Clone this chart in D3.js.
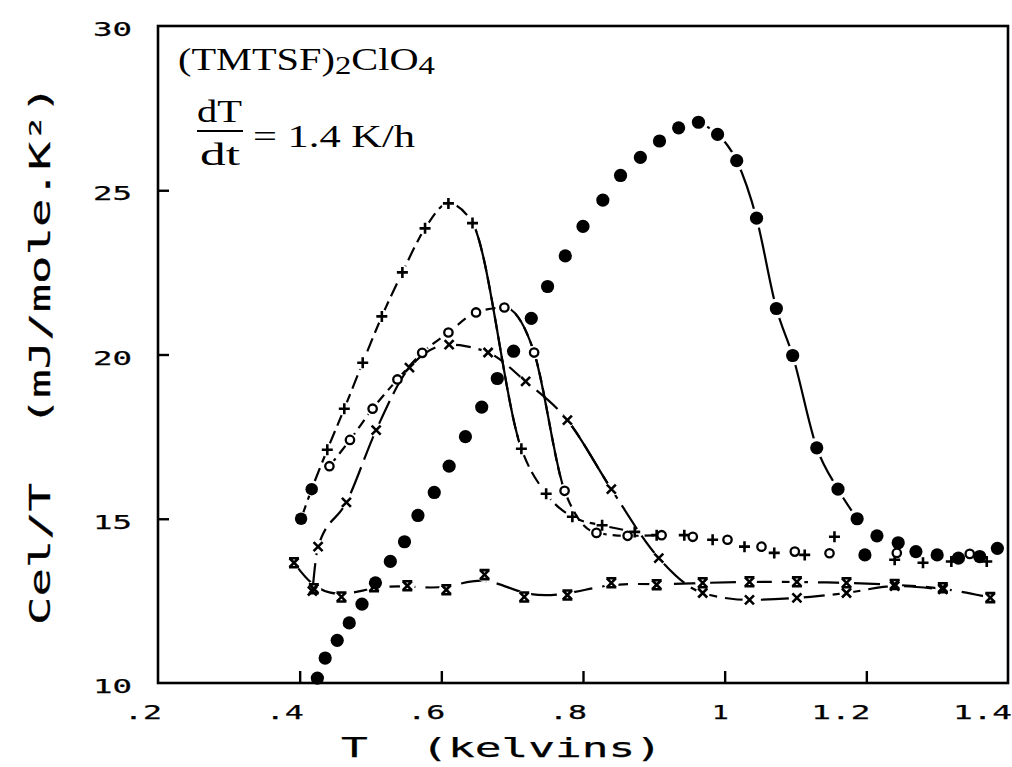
<!DOCTYPE html>
<html><head><meta charset="utf-8">
<script src="https://cdn.jsdelivr.net/npm/d3@7"></script>
<style>body{margin:0;background:#fff}svg{display:block}</style>
</head><body>
<script>
// ---- data ----
const xTicks = [0.2, 0.4, 0.6, 0.8, 1.0, 1.2, 1.4];
const xTickLabels = [".2", ".4", ".6", ".8", "1", "1.2", "1.4"];
const yTicks = [10, 15, 20, 25, 30];
const yTickLabels = ["10", "15", "20", "25", "30"];

const dotsT = [0.425,0.436,0.453,0.47,0.488,0.507,0.528,0.548,0.567,0.59,0.611,0.634,0.657,0.679,0.702,0.727,0.75,0.775,0.8,0.828,0.853,0.881,0.908,0.935,0.963,0.99,1.017,1.045,1.073,1.096,1.13,1.16,1.187,1.198,1.215,1.245,1.27,1.30,1.33,1.36,1.385];
const dotsV = [10.15,10.76,11.3,11.83,12.4,13.05,13.7,14.3,15.1,15.8,16.6,17.5,18.4,19.27,20.1,21.1,22.07,23.0,23.9,24.7,25.45,26.0,26.5,26.9,27.07,26.7,25.9,24.15,21.4,19.97,17.16,15.9,15.0,13.9,14.48,14.27,14.0,13.9,13.8,13.85,14.1];

const startT = [0.402, 0.417];
const startV = [15.0, 15.9];

const plusT = [0.439,0.463,0.489,0.516,0.545,0.577,0.61,0.644,0.713,0.748,0.785,0.827,0.873,0.904,0.943,0.983,1.028,1.07,1.113,1.155,1.24,1.28,1.32,1.37];
const plusV = [17.1,18.35,19.75,21.16,22.5,23.84,24.6,24.0,17.13,15.76,15.06,14.8,14.6,14.5,14.5,14.36,14.15,13.96,13.9,14.45,13.75,13.66,13.7,13.7];

const circT = [0.442,0.471,0.503,0.538,0.573,0.61,0.649,0.689,0.731,0.774,0.819,0.863,0.911,0.955,1.004,1.052,1.099,1.148,1.243,1.346];
const circV = [16.6,17.4,18.35,19.24,20.05,20.67,21.28,21.43,20.06,15.85,14.57,14.48,14.5,14.45,14.36,14.15,14.0,13.95,13.96,13.93];

const crossT = [0.418,0.426,0.466,0.508,0.555,0.611,0.666,0.719,0.778,0.84,0.907,0.969,1.035,1.102,1.172,1.24,1.308];
const crossV = [12.8,14.15,15.5,17.7,19.6,20.3,20.06,19.18,18.0,15.9,13.8,12.74,12.53,12.59,12.74,12.95,12.85];

const starT = [0.392,0.42,0.459,0.505,0.552,0.607,0.661,0.717,0.778,0.84,0.904,0.969,1.035,1.102,1.172,1.24,1.308,1.375];
const starV = [13.66,12.87,12.62,12.93,12.96,12.84,13.3,12.62,12.68,13.05,12.99,13.05,13.08,13.08,13.05,13.0,12.9,12.6];

// ---- layout ----
const W = 1012, H = 767;
const L = 158, R = 1008, Tp = 26, B = 683;
const svg = d3.select("body").append("svg").attr("width", W).attr("height", H);
svg.append("rect").attr("width", W).attr("height", H).attr("fill", "#fff");
const defs = svg.append("defs");

const x = d3.scaleLinear().domain([0.2, 1.4]).range([L, R]);
const y = d3.scaleLinear().domain([10, 30]).range([B, Tp]);

const zip = (a, b) => a.map((t, i) => [t, b[i]]);
const dots = zip(dotsT, dotsV), starts = zip(startT, startV), plus = zip(plusT, plusV),
      circ = zip(circT, circV), cross = zip(crossT, crossV), star = zip(starT, starV);

const line = d3.line().x(d => x(d[0])).y(d => y(d[1])).curve(d3.curveMonotoneX);
const smoothLine = d3.line().x(d => x(d[0])).y(d => y(d[1])).curve(d3.curveBasis);

// frame
svg.append("rect").attr("x", L).attr("y", Tp).attr("width", R - L).attr("height", B - Tp)
  .attr("fill", "none").attr("stroke", "#000").attr("stroke-width", 2.6);

// ticks via d3 axes (inward)
const xAxis = d3.axisBottom(x).tickValues(xTicks.slice(1, -1)).tickSize(-12).tickFormat("");
svg.append("g").attr("transform", `translate(0,${B})`).call(xAxis)
  .call(g => g.select(".domain").remove())
  .call(g => g.selectAll("line").attr("stroke", "#000").attr("stroke-width", 2.4));
const yAxis = d3.axisLeft(y).tickValues(yTicks.slice(1, -1)).tickSize(-11).tickFormat("");
svg.append("g").attr("transform", `translate(${L},0)`).call(yAxis)
  .call(g => g.select(".domain").remove())
  .call(g => g.selectAll("line").attr("stroke", "#000").attr("stroke-width", 2.4));

const monoFont = "'DejaVu Sans Mono', monospace";
// tick labels
xTicks.forEach((t, i) => {
  const s = xTickLabels[i];
  svg.append("text").attr("x", x(t) + 4).attr("y", 719).attr("text-anchor", "end")
    .attr("font-family", monoFont).attr("font-size", 20)
    .attr("textLength", s.length * 21 - 4).attr("lengthAdjust", "spacingAndGlyphs")
    .attr("stroke", "#000").attr("stroke-width", 0.25).text(s);
});
yTicks.forEach((v, i) => {
  const s = yTickLabels[i];
  svg.append("text").attr("x", 132).attr("y", y(v) + 10).attr("text-anchor", "end")
    .attr("font-family", monoFont).attr("font-size", 20)
    .attr("textLength", s.length * 21 - 3).attr("lengthAdjust", "spacingAndGlyphs")
    .attr("stroke", "#000").attr("stroke-width", 0.25).text(s);
});

// axis titles
svg.append("text").attr("x", 341).attr("y", 757)
  .attr("font-family", monoFont).attr("font-size", 27)
  .attr("textLength", 321).attr("lengthAdjust", "spacingAndGlyphs")
  .attr("stroke", "#000").attr("stroke-width", 0.25)
  .style("white-space", "pre").text("T  (kelvins)");
svg.append("text").attr("transform", "translate(50,625) rotate(-90)")
  .attr("font-family", monoFont).attr("font-size", 28)
  .attr("textLength", 540).attr("lengthAdjust", "spacingAndGlyphs")
  .attr("stroke", "#000").attr("stroke-width", 0.25)
  .style("white-space", "pre").text("Cel/T  (mJ/mole.K²)");

// annotation
const serif = "'Liberation Serif', 'Times New Roman', serif";
const t1 = svg.append("text").attr("x", 178).attr("y", 70).attr("font-family", serif).attr("font-size", 32)
  .attr("textLength", 257).attr("lengthAdjust", "spacingAndGlyphs");
t1.append("tspan").text("(TMTSF)");
t1.append("tspan").attr("dy", 4).attr("font-size", 26).text("2");
t1.append("tspan").attr("dy", -4).text("ClO");
t1.append("tspan").attr("dy", 4).attr("font-size", 26).text("4");
svg.append("text").attr("x", 197).attr("y", 122).attr("font-family", serif).attr("font-size", 32)
  .attr("textLength", 45).attr("lengthAdjust", "spacingAndGlyphs").text("dT");
svg.append("line").attr("x1", 197).attr("x2", 243).attr("y1", 131).attr("y2", 131)
  .attr("stroke", "#000").attr("stroke-width", 1.8);
svg.append("text").attr("x", 200).attr("y", 165).attr("font-family", serif).attr("font-size", 32)
  .attr("textLength", 40).attr("lengthAdjust", "spacingAndGlyphs").text("dt");
svg.append("text").attr("x", 253).attr("y", 147).attr("font-family", serif).attr("font-size", 32)
  .attr("textLength", 162).attr("lengthAdjust", "spacingAndGlyphs")
  .style("white-space", "pre").text("= 1.4 K/h");

// masks: lines break around their own markers
function makeMask(id, pts, r) {
  const m = defs.append("mask").attr("id", id).attr("maskUnits", "userSpaceOnUse")
    .attr("x", 0).attr("y", 0).attr("width", W).attr("height", H);
  m.append("rect").attr("width", W).attr("height", H).attr("fill", "#fff");
  pts.forEach(p => m.append("circle").attr("cx", x(p[0])).attr("cy", y(p[1])).attr("r", r).attr("fill", "#000"));
}
function clipRange(id, t0, t1) {
  defs.append("clipPath").attr("id", id).append("rect")
    .attr("x", x(t0)).attr("y", 0).attr("width", x(t1) - x(t0)).attr("height", H);
}

const plotG = svg.append("g");
function drawLine(d, maskId, dash, sw) {
  plotG.append("path").attr("d", d).attr("fill", "none").attr("stroke", "#000")
    .attr("stroke-width", sw).attr("stroke-dasharray", dash).attr("mask", `url(#${maskId})`);
}
function drawSolid(d, maskId, clipId, sw) {
  plotG.append("g").attr("clip-path", `url(#${clipId})`).append("path").attr("d", d)
    .attr("fill", "none").attr("stroke", "#000").attr("stroke-width", sw).attr("mask", `url(#${maskId})`);
}

// dots: fit line only over the peak and fall
const dotsLine = dots.filter(d => d[0] >= 0.963 && d[0] <= 1.187);
makeMask("m-dots", dots, 10);
drawLine(line(dotsLine), "m-dots", null, 2.2);

// plus
const plusLine = starts.concat(plus.filter(d => d[0] <= 0.873));
makeMask("m-plus", starts.concat(plus), 7);
drawLine(line(plusLine), "m-plus", "14,6", 2.2);
clipRange("c-plus", 0.648, 0.71);
drawSolid(line(plusLine), "m-plus", "c-plus", 2.2);

// open circles
const circLine = circ.filter(d => d[0] <= 0.911);
makeMask("m-circ", circ, 7);
drawLine(line(circLine), "m-circ", "10,6", 2.2);
clipRange("c-circ", 0.692, 0.772);
drawSolid(line(circLine), "m-circ", "c-circ", 2.2);

// crosses
makeMask("m-cross", cross, 7);
drawLine(line(cross), "m-cross", "28,8", 2.2);
clipRange("c-cross", 0.78, 0.836);
drawSolid(line(cross), "m-cross", "c-cross", 2.2);

// asterisk-like series: smoothed fit line
makeMask("m-star", star, 7.5);
drawLine(smoothLine(star), "m-star", "26,10", 2.2);

// markers
const mk = svg.append("g");
mk.selectAll(".dot").data(dots).join("circle").attr("cx", d => x(d[0])).attr("cy", d => y(d[1]))
  .attr("r", 6.6).attr("fill", "#000");
mk.selectAll(".st").data(starts).join("circle").attr("cx", d => x(d[0])).attr("cy", d => y(d[1]))
  .attr("r", 6.2).attr("fill", "#000");
mk.selectAll(".pl").data(plus).join("path")
  .attr("d", "M-5.5,0H5.5M0,-5.5V5.5")
  .attr("transform", d => `translate(${x(d[0])},${y(d[1])})`)
  .attr("stroke", "#000").attr("stroke-width", 2.6).attr("fill", "none");
mk.selectAll(".ci").data(circ).join("circle").attr("cx", d => x(d[0])).attr("cy", d => y(d[1]))
  .attr("r", 4.2).attr("fill", "#fff").attr("stroke", "#000").attr("stroke-width", 2.3);
mk.selectAll(".cr").data(cross).join("path")
  .attr("d", "M-4.5,-4.5L4.5,4.5M-4.5,4.5L4.5,-4.5")
  .attr("transform", d => `translate(${x(d[0])},${y(d[1])})`)
  .attr("stroke", "#000").attr("stroke-width", 2.6).attr("fill", "none");
mk.selectAll(".sr").data(star).join("path")
  .attr("d", "M-4.5,-4.5L4.5,4.5M-4.5,4.5L4.5,-4.5M-5,-4.5H5M-5,4.5H5")
  .attr("transform", d => `translate(${x(d[0])},${y(d[1])})`)
  .attr("stroke", "#000").attr("stroke-width", 2.6).attr("fill", "none");
</script>
</body></html>
